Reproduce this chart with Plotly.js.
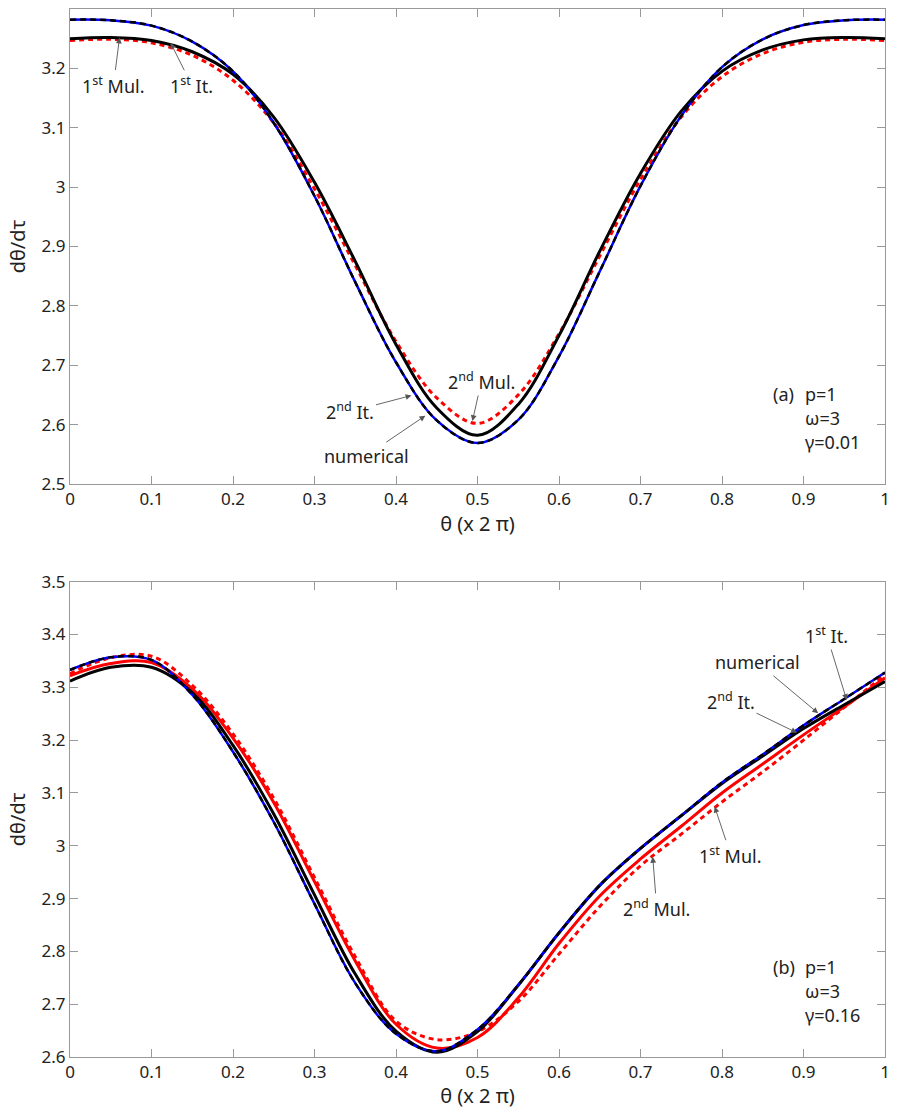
<!DOCTYPE html>
<html>
<head>
<meta charset="utf-8">
<script src="https://cdn.plot.ly/plotly-3.0.1.min.js"></script>
<style>html,body{margin:0;padding:0;background:#fff;}#plot{width:902px;height:1109px;}</style>
</head>
<body>
<div id="plot"></div>
<script>
// theta (x 2 pi) grid
const theta = [0,0.05,0.1,0.15,0.2,0.25,0.3,0.35,0.4,0.45,0.5,0.55,0.6,0.65,0.7,0.75,0.8,0.85,0.9,0.95,1];

// Panel (a): p=1, omega=3, gamma=0.01
const aNumerical  = [3.282,3.281,3.272,3.245,3.195,3.108,2.985,2.840,2.705,2.607,2.569,2.608,2.715,2.858,3.002,3.120,3.202,3.249,3.273,3.281,3.282];
const aItDashed   = [3.282,3.281,3.272,3.245,3.195,3.108,2.985,2.840,2.705,2.607,2.569,2.608,2.715,2.858,3.002,3.120,3.202,3.249,3.273,3.281,3.282];
const aItSolid    = [3.250,3.252,3.247,3.228,3.190,3.118,3.008,2.875,2.735,2.628,2.582,2.634,2.750,2.892,3.023,3.128,3.195,3.231,3.248,3.252,3.250];
const aMulDashed  = [3.247,3.249,3.243,3.222,3.180,3.108,2.997,2.868,2.740,2.645,2.602,2.650,2.753,2.884,3.013,3.118,3.186,3.225,3.244,3.249,3.247];

// Panel (b): p=1, omega=3, gamma=0.16
const bNumerical  = [3.333,3.357,3.352,3.286,3.178,3.045,2.890,2.740,2.644,2.611,2.652,2.736,2.835,2.925,2.995,3.057,3.120,3.173,3.228,3.278,3.328];
const bItDashed   = [3.333,3.357,3.352,3.286,3.178,3.045,2.890,2.740,2.644,2.611,2.652,2.736,2.835,2.925,2.995,3.057,3.120,3.173,3.228,3.278,3.328];
const bItSolid    = [3.312,3.338,3.338,3.290,3.190,3.060,2.907,2.757,2.649,2.609,2.648,2.736,2.835,2.925,2.995,3.057,3.118,3.170,3.222,3.267,3.311];
const bMulSolid   = [3.322,3.345,3.347,3.297,3.204,3.082,2.932,2.782,2.662,2.617,2.637,2.712,2.815,2.905,2.975,3.037,3.100,3.155,3.210,3.263,3.318];
const bMulDashed  = [3.326,3.356,3.359,3.304,3.212,3.090,2.940,2.790,2.668,2.633,2.648,2.705,2.795,2.885,2.962,3.022,3.083,3.140,3.200,3.262,3.324];

// tick labels
const xTickVals = [0,0.1,0.2,0.3,0.4,0.5,0.6,0.7,0.8,0.9,1];
const xTickText = ['0','0.1','0.2','0.3','0.4','0.5','0.6','0.7','0.8','0.9','1'];
const aYTickVals = [2.5,2.6,2.7,2.8,2.9,3,3.1,3.2,3.3];
const aYTickText = ['2.5','2.6','2.7','2.8','2.9','3','3.1','3.2','3.3'];
const bYTickVals = [2.6,2.7,2.8,2.9,3,3.1,3.2,3.3,3.4,3.5];
const bYTickText = ['2.6','2.7','2.8','2.9','3','3.1','3.2','3.3','3.4','3.5'];

const FONT = 'Noto Sans, Open Sans, sans-serif';

function tr(y, xa, ya, color, width, dash) {
  return {x: theta, y: y, xaxis: xa, yaxis: ya, mode: 'lines',
    line: {color: color, width: width, dash: dash || 'solid', shape: 'spline', smoothing: 1},
    hoverinfo: 'skip', showlegend: false};
}

const data = [
  tr(aMulDashed, 'x', 'y', '#ff0000', 3, '5px,4px'),
  tr(aItSolid,   'x', 'y', '#000000', 3),
  tr(aNumerical, 'x', 'y', '#0000ff', 2.5),
  tr(aItDashed,  'x', 'y', '#000000', 2.5, '6px,4px'),
  tr(bMulSolid,  'x2', 'y2', '#ff0000', 3),
  tr(bMulDashed, 'x2', 'y2', '#ff0000', 3, '5px,4px'),
  tr(bItSolid,   'x2', 'y2', '#000000', 3),
  tr(bNumerical, 'x2', 'y2', '#0000ff', 2.5),
  tr(bItDashed,  'x2', 'y2', '#000000', 2.5, '6px,4px')
];

function xax(anchor) {
  return {anchor: anchor, domain: [0, 1], range: [0, 1], tickvals: xTickVals, ticktext: xTickText,
    ticks: 'inside', ticklen: 8, tickwidth: 1, tickcolor: '#999', showline: true, linecolor: '#999', linewidth: 1,
    mirror: 'ticks', showgrid: false, zeroline: false, tickfont: {family: FONT, size: 17, color: '#222'},
    title: {text: 'θ (x 2 π)', font: {family: FONT, size: 20, color: '#222'}, standoff: 4}, automargin: false};
}
function yax(anchor, dom, rng, tv, tt) {
  return {anchor: anchor, domain: dom, range: rng, tickvals: tv, ticktext: tt,
    ticks: 'inside', ticklen: 8, tickwidth: 1, tickcolor: '#999', showline: true, linecolor: '#999', linewidth: 1,
    mirror: 'ticks', showgrid: false, zeroline: false, tickfont: {family: FONT, size: 17, color: '#222'},
    title: {text: 'dθ/dτ', font: {family: FONT, size: 20, color: '#222'}, standoff: 10}, automargin: false};
}

function arr(xr, yr, x, y, ax, ay, text) {
  return {xref: xr, yref: yr, x: x, y: y, ax: ax, ay: ay, text: text, showarrow: true,
    arrowhead: 2, arrowsize: 1.3, arrowwidth: 0.9, arrowcolor: '#555', standoff: 0, startstandoff: 0,
    font: {family: FONT, size: 18, color: '#222'}};
}
function lab(xr, yr, x, y, text) {
  return {xref: xr, yref: yr, x: x, y: y, text: text, showarrow: false, xanchor: 'left', yanchor: 'middle',
    font: {family: FONT, size: 18, color: '#222'}};
}

const annotations = [
  arr('x', 'y', 0.0608, 3.252, -6, 47, '1<sup>st</sup> Mul.'),
  arr('x', 'y', 0.1234, 3.243, 21, 42, '1<sup>st</sup> It.'),
  arr('x', 'y', 0.4938, 2.606, 9, -40, '2<sup>nd</sup> Mul.'),
  arr('x', 'y', 0.419, 2.649, -61, 16, '2<sup>nd</sup> It.'),
  arr('x', 'y', 0.436, 2.615, -59, 40, 'numerical'),
  lab('x', 'y', 0.860, 2.651, '(a)'),
  lab('x', 'y', 0.899, 2.651, 'p=1'),
  lab('x', 'y', 0.899, 2.611, 'ω=3'),
  lab('x', 'y', 0.899, 2.570, 'γ=0.01'),

  arr('x2', 'y2', 0.953, 3.276, -20, -65, '1<sup>st</sup> It.'),
  arr('x2', 'y2', 0.918, 3.251, -61, -51, 'numerical'),
  arr('x2', 'y2', 0.892, 3.214, -66, -32, '2<sup>nd</sup> It.'),
  arr('x2', 'y2', 0.791, 3.074, 16, 48, '1<sup>st</sup> Mul.'),
  arr('x2', 'y2', 0.715, 2.979, 4, 51, '2<sup>nd</sup> Mul.'),
  lab('x2', 'y2', 0.860, 2.770, '(b)'),
  lab('x2', 'y2', 0.899, 2.770, 'p=1'),
  lab('x2', 'y2', 0.899, 2.725, 'ω=3'),
  lab('x2', 'y2', 0.899, 2.679, 'γ=0.16')
];

const layout = {
  width: 902, height: 1109,
  margin: {l: 70, r: 17, t: 9, b: 52},
  paper_bgcolor: '#ffffff', plot_bgcolor: '#ffffff',
  font: {family: FONT, size: 17, color: '#222'},
  showlegend: false,
  xaxis: xax('y'),
  yaxis: yax('x', [0.5468, 1], [2.5, 3.3], aYTickVals, aYTickText),
  xaxis2: xax('y2'),
  yaxis2: yax('x2', [0, 0.4535], [2.6, 3.5], bYTickVals, bYTickText),
  annotations: annotations
};

Plotly.newPlot('plot', data, layout, {displayModeBar: false, staticPlot: true});
</script>
</body>
</html>
